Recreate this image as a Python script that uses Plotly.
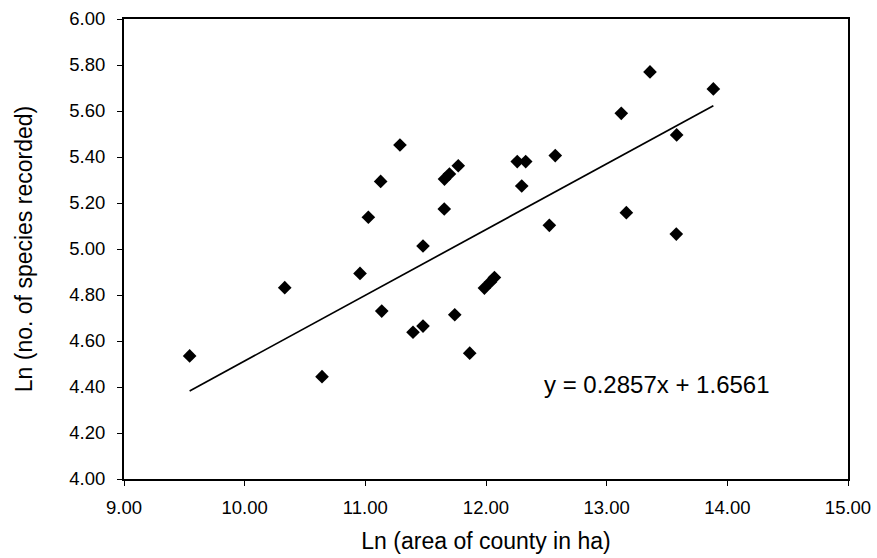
import plotly.graph_objects as go

# Log area of each county (ha) and log number of species recorded
ln_area = [
    9.544, 10.332, 10.641, 10.956, 11.136, 11.395, 11.478, 11.741, 11.865,
    11.987, 12.037, 12.070,
    11.287, 11.127, 11.025,
    11.656, 11.697, 11.770,
    11.654, 11.478,
    12.259, 12.329,
    12.296, 12.574, 12.525,
    13.121, 13.359, 13.884, 13.580, 13.163, 13.577,
]
ln_species = [
    4.535, 4.832, 4.445, 4.894, 4.730, 4.638, 4.665, 4.714, 4.547,
    4.830, 4.857, 4.876,
    5.452, 5.294, 5.138,
    5.304, 5.326, 5.362,
    5.174, 5.013,
    5.380, 5.380,
    5.274, 5.406, 5.103,
    5.590, 5.770, 5.696, 5.496, 5.158, 5.065,
]

# Fitted linear trend
slope = 0.2857
intercept = 1.6561

x_ticks = [9, 10, 11, 12, 13, 14, 15]
y_ticks = [4.0, 4.2, 4.4, 4.6, 4.8, 5.0, 5.2, 5.4, 5.6, 5.8, 6.0]

FONT = "Liberation Sans, Arial, sans-serif"

x_fit = [min(ln_area), max(ln_area)]
y_fit = [slope * v + intercept for v in x_fit]

fig = go.Figure()
fig.add_trace(go.Scatter(
    x=x_fit, y=y_fit, mode="lines",
    line=dict(color="black", width=1.7),
    hoverinfo="skip", showlegend=False,
))
fig.add_trace(go.Scatter(
    x=ln_area, y=ln_species, mode="markers",
    marker=dict(symbol="diamond", size=10.5, color="black",
                line=dict(width=0)),
    showlegend=False,
))

fig.add_annotation(
    x=13.42, y=4.413, xref="x", yref="y",
    text=f"y = {slope}x + {intercept}",
    showarrow=False, xanchor="center", yanchor="middle",
    font=dict(family=FONT, size=24, color="black"),
)

axis_common = dict(
    showline=True, linecolor="black", linewidth=2, mirror=True,
    ticks="outside", ticklen=5, tickwidth=1, tickcolor="black",
    showgrid=False, zeroline=False, automargin=False,
    tickfont=dict(family=FONT, size=18.5, color="black"),
)

fig.update_xaxes(
    range=[9, 15], tickvals=x_ticks,
    ticktext=[f"{v:.2f}" for v in x_ticks],
    ticklabelstandoff=6,
    title=dict(text="Ln (area of county in ha)", standoff=16,
               font=dict(family=FONT, size=23, color="black")),
    **axis_common,
)
fig.update_yaxes(
    range=[4, 6], tickvals=y_ticks,
    ticktext=[f"{v:.2f}" for v in y_ticks],
    ticklabelstandoff=8,
    title=dict(text="Ln (no. of species recorded)", standoff=30,
               font=dict(family=FONT, size=23, color="black")),
    **axis_common,
)

fig.update_layout(
    width=877, height=558,
    margin=dict(l=124, r=29, t=19, b=79),
    paper_bgcolor="white", plot_bgcolor="white",
)

fig.write_html("out.html")
